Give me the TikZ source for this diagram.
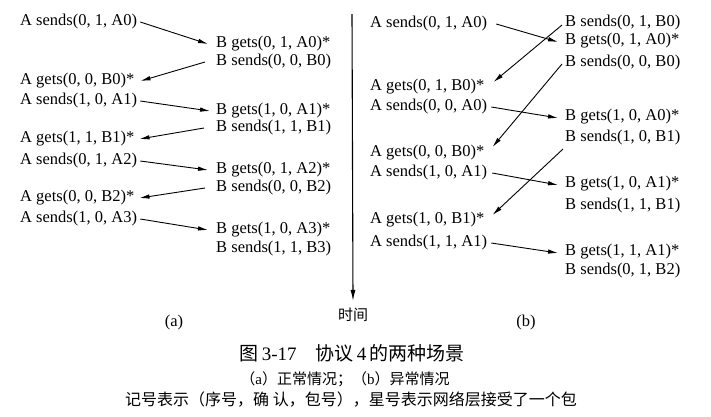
\documentclass[tikz,border=0pt]{standalone}
\usepackage{fontspec}
\setmainfont{Liberation Serif}
\newfontfamily\cjk{Noto Sans CJK SC}
\usetikzlibrary{arrows.meta}
\begin{document}
\begin{tikzpicture}[x=1pt,y=-1pt,
  lbl/.style={font=\fontsize{16.5}{18}\selectfont, inner sep=0pt, anchor=west},
  msg/.style={-{Latex[length=10pt,width=4.5pt]}, line width=0.9pt},
  axis/.style={-{Latex[length=11pt,width=5pt]}, line width=1.1pt},
]
\useasboundingbox (0,0) rectangle (711,416);

% ---------- panel (a) ----------
\node[lbl] (as0) at (20,22) {A sends(0, 1, A0)};
\node[lbl] (bg0) at (216,44) {B gets(0, 1, A0)*};
\node[lbl] (bs0) at (216,62) {B sends(0, 0, B0)};
\node[lbl] (ag0) at (20,81) {A gets(0, 0, B0)*};
\node[lbl] (as1) at (20,101) {A sends(1, 0, A1)};
\node[lbl] (bg1) at (216,111) {B gets(1, 0, A1)*};
\node[lbl] (bs1) at (216,128) {B sends(1, 1, B1)};
\node[lbl] (ag1) at (20,139) {A gets(1, 1, B1)*};
\node[lbl] (as2) at (20,161) {A sends(0, 1, A2)};
\node[lbl] (bg2) at (216,170) {B gets(0, 1, A2)*};
\node[lbl] (bs2) at (216,188) {B sends(0, 0, B2)};
\node[lbl] (ag2) at (20,198) {A gets(0, 0, B2)*};
\node[lbl] (as3) at (20,219) {A sends(1, 0, A3)};
\node[lbl] (bg3) at (216,230) {B gets(1, 0, A3)*};
\node[lbl] (bs3) at (216,249) {B sends(1, 1, B3)};

\draw[msg] ([xshift=3pt]as0.east) -- ([xshift=-8pt]bg0.west);
\draw[msg] ([xshift=-11pt]bs0.west) -- ([xshift=6pt]ag0.east);
\draw[msg] ([xshift=3pt]as1.east) -- ([xshift=-6pt]bg1.west);
\draw[msg] ([xshift=-12pt]bs1.west) -- ([xshift=5pt]ag1.east);
\draw[msg] ([xshift=3pt]as2.east) -- ([xshift=-8pt]bg2.west);
\draw[msg] ([xshift=-11pt]bs2.west) -- ([xshift=5pt]ag2.east);
\draw[msg] ([xshift=3pt]as3.east) -- ([xshift=-8pt]bg3.west);

% ---------- time axis ----------
\coordinate (t0) at (352,14);
\node[font=\cjk\fontsize{15}{16}\selectfont, inner sep=1pt] (time) at (353,315) {时间};
\draw[axis] (t0) -- ([yshift=6pt]time.north);

% ---------- panel (b) ----------
\node[lbl] (ras0) at (370,24) {A sends(0, 1, A0)};
\node[lbl] (rbs0) at (565,23) {B sends(0, 1, B0)};
\node[lbl] (rbg0) at (565,41) {B gets(0, 1, A0)*};
\node[lbl] (rbs1) at (565,63) {B sends(0, 0, B0)};
\node[lbl] (rag0) at (370,87) {A gets(0, 1, B0)*};
\node[lbl] (ras1) at (370,107) {A sends(0, 0, A0)};
\node[lbl] (rbg1) at (565,117) {B gets(1, 0, A0)*};
\node[lbl] (rbs2) at (565,138) {B sends(1, 0, B1)};
\node[lbl] (rag1) at (370,153) {A gets(0, 0, B0)*};
\node[lbl] (ras2) at (370,173) {A sends(1, 0, A1)};
\node[lbl] (rbg2) at (565,184) {B gets(1, 0, A1)*};
\node[lbl] (rbs3) at (565,206) {B sends(1, 1, B1)};
\node[lbl] (rag2) at (370,220) {A gets(1, 0, B1)*};
\node[lbl] (ras3) at (370,243) {A sends(1, 1, A1)};
\node[lbl] (rbg3) at (565,252) {B gets(1, 1, A1)*};
\node[lbl] (rbs4) at (565,271) {B sends(0, 1, B2)};

\draw[msg] ([xshift=9pt]ras0.east) -- ([xshift=-7pt,yshift=-1pt]rbg0.west);
\draw[msg] ([xshift=-3pt,yshift=-2pt]rbs0.west) -- ([xshift=9pt,yshift=5pt]rag0.east);
\draw[msg] ([xshift=-3pt,yshift=-1pt]rbs1.west) -- ([xshift=8pt,yshift=6pt]rag1.east);
\draw[msg] ([xshift=4pt]ras1.east) -- ([xshift=-7pt,yshift=-1pt]rbg1.west);
\draw[msg] ([xshift=-2pt,yshift=-11pt]rbs2.west) -- ([xshift=8pt,yshift=5pt]rag2.east);
\draw[msg] ([xshift=5pt]ras2.east) -- ([xshift=-7pt,yshift=-1pt]rbg2.west);
\draw[msg] ([xshift=4pt]ras3.east) -- ([xshift=-7pt,yshift=-1pt]rbg3.west);

% ---------- captions ----------
\node[font=\fontsize{16.5}{18}\selectfont] (capa) at (174,323) {(a)};
\node[font=\fontsize{16.5}{18}\selectfont] (capb) at (526,323) {(b)};
\node[font=\cjk\fontsize{19}{21}\selectfont] (fig) at (352,353)
  {图\,{\rmfamily 3-17}\quad 协议\,{\rmfamily 4}\,的两种场景};
\node[font=\cjk\fontsize{15}{16}\selectfont] (sub) at (345,379)
  {（{\rmfamily a}）正常情况；（{\rmfamily b}）异常情况};
\node[font=\cjk\fontsize{16}{17}\selectfont] (note) at (351,399)
  {记号表示（序号，确 认，包号），星号表示网络层接受了一个包};
\end{tikzpicture}
\end{document}
